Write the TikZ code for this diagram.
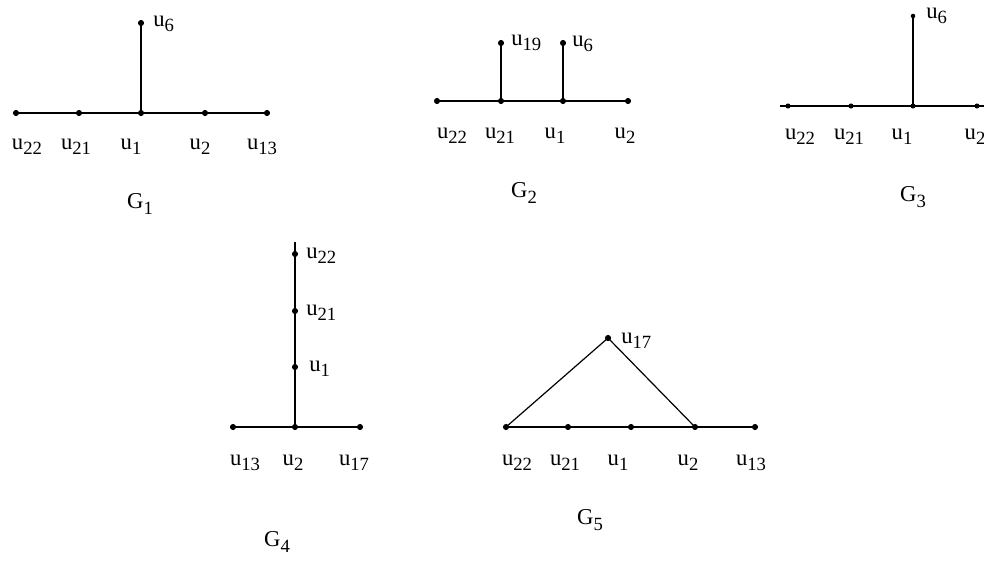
\documentclass[tikz,border=0pt]{standalone}
\usepackage{fontspec}
\setmainfont{Liberation Serif}
\usetikzlibrary{positioning}
\newcommand{\uu}[1]{u\raisebox{-4pt}{\fontsize{14}{14}\selectfont #1}}
\newcommand{\gname}[1]{G\raisebox{-4pt}{\fontsize{14}{14}\selectfont #1}}
\tikzset{
  vtx/.style={circle,fill,inner sep=0pt,minimum size=4.6pt},
  lbl/.style={font=\fontsize{17}{19}\selectfont,inner sep=0pt},
  edge/.style={line width=1.1pt}
}

\begin{document}
\begin{tikzpicture}[x=0.75pt,y=-0.75pt]
  \useasboundingbox (0,0) rectangle (984,560);
  % G1
  \foreach \n/\x in {22/16,21/79,1/141,2/205,13/267}{\node[vtx] (a\n) at (\x,113) {};}
  \node[vtx] (a6) at (141,23) {};
  \draw[edge] (a22.center)--(a13.center);
  \draw[edge] (a1.center)--(a6.center);
  \node[lbl,anchor=west] (la6) at (153,24) {\uu{6}};
  \foreach \n/\x in {22/27,21/76,1/131,2/200,13/262}{\node[lbl] (la\n) at (\x,147) {\uu{\n}};}
  \node[lbl] (ga) at (140,204) {\gname{1}};
  % G2
  \foreach \n/\x in {22/437,21/501,1/563,2/628}{\node[vtx] (b\n) at (\x,101) {};}
  \node[vtx] (b19) at (501,43) {};
  \node[vtx] (b6) at (563,43) {};
  \draw[edge] (b22.center)--(b2.center);
  \draw[edge] (b19.center)--(b21.center);
  \draw[edge] (b6.center)--(b1.center);
  \node[lbl,anchor=west] (lb19) at (511,43) {\uu{19}};
  \node[lbl,anchor=west] (lb6) at (572,44) {\uu{6}};
  \foreach \n/\x in {22/452,21/500,1/555,2/625}{\node[lbl] (lb\n) at (\x,136) {\uu{\n}};}
  \node[lbl] (gb) at (524,193) {\gname{2}};
  % G3
  \foreach \n/\x in {22/788,21/851,1/913,2/977}{\node[vtx,minimum size=3.8pt] (c\n) at (\x,106) {};}
  \node[vtx,minimum size=3.4pt] (c6) at (913,16) {};
  \coordinate (cl) at (780,106);
  \coordinate (cr) at (984,106);
  \draw[edge] (cl)--(cr);
  \draw[line width=2.2pt] (c6.center)--(c1.center);
  \node[lbl,anchor=west] (lc6) at (926,16) {\uu{6}};
  \foreach \n/\x in {22/800,21/849,1/902,2/975}{\node[lbl] (lc\n) at (\x,137) {\uu{\n}};}
  \node[lbl] (gc) at (913,197) {\gname{3}};
  % G4
  \foreach \n/\y in {22/254,21/311,1/367}{\node[vtx] (d\n) at (295,\y) {};}
  \foreach \n/\x in {13/233,2/295,17/360}{\node[vtx] (d\n) at (\x,427) {};}
  \coordinate (dtop) at (295,242);
  \draw[edge] (dtop)--(d2.center);
  \draw[edge] (d13.center)--(d17.center);
  \node[lbl,anchor=west] (ld22) at (306,256) {\uu{22}};
  \node[lbl,anchor=west] (ld21) at (306,313) {\uu{21}};
  \node[lbl,anchor=west] (ld1) at (309,369) {\uu{1}};
  \foreach \n/\x in {13/245,2/293,17/354}{\node[lbl] (ld\n) at (\x,463) {\uu{\n}};}
  \node[lbl] (gd) at (277,542) {\gname{4}};
  % G5
  \foreach \n/\x in {22/506,21/568,1/631,2/695,13/755}{\node[vtx] (e\n) at (\x,427) {};}
  \node[vtx] (e17) at (608,338) {};
  \draw[edge] (e22.center)--(e13.center);
  \draw[line width=0.9pt] (e22.center)--(e17.center)--(e2.center);
  \node[lbl,anchor=west] (le17) at (621,341) {\uu{17}};
  \foreach \n/\x in {22/517,21/565,1/618,2/688,13/751}{\node[lbl] (le\n) at (\x,463) {\uu{\n}};}
  \node[lbl] (ge) at (590,520) {\gname{5}};
\end{tikzpicture}
\end{document}
